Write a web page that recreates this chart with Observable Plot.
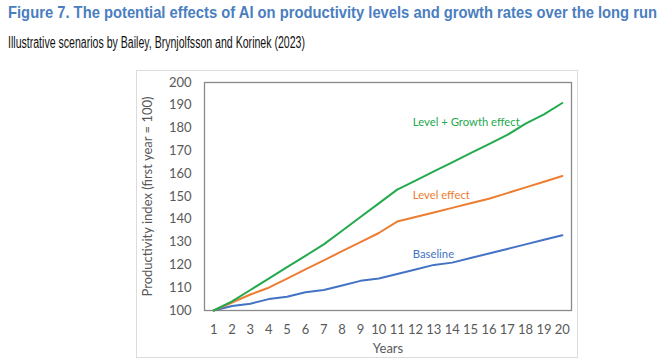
<!DOCTYPE html>
<html><head><meta charset="utf-8">
<script src="https://cdn.jsdelivr.net/npm/d3@7"></script>
<script src="https://cdn.jsdelivr.net/npm/@observablehq/plot@0.6"></script>
<style>
body{margin:0;background:#fff;width:662px;height:361px;overflow:hidden;position:relative;font-family:"Liberation Sans",Arial,sans-serif}
#title{position:absolute;left:8px;top:3px;font-weight:bold;color:#4a7ebf;font-size:17px;white-space:nowrap;transform-origin:0 0}
#subtitle{position:absolute;left:8px;top:34px;color:#111;font-size:16px;white-space:nowrap;transform-origin:0 0}
#box{position:absolute;left:136px;top:70px;width:440px;height:286px;border:1px solid #dcdcdc}
#chart{position:absolute;left:0;top:70px}
</style></head>
<body>
<div id="title">Figure 7. The potential effects of AI on productivity levels and growth rates over the long run</div>
<div id="subtitle">Illustrative scenarios by Bailey, Brynjolfsson and Korinek (2023)</div>
<div id="box"></div>
<div id="chart"></div>
<script>
const years = [1,2,3,4,5,6,7,8,9,10,11,12,13,14,15,16,17,18,19,20];
const yTicks = [100,110,120,130,140,150,160,170,180,190,200];
const seriesNames = ["Baseline","Level effect","Level + Growth effect"];
const seriesColors = ["#4472c4","#ed7d31","#23a94e"];
const baseline = [100,102,103,105,106,108,109,111,113,114,116,118,120,121,123,125,127,129,131,133];
const levelEffect = [100,103.5,107,110,114,118,122,126,130,134,139,141,143,145,147,149,151.5,154,156.5,159];
const levelGrowth = [100,104,109,114,119,124,129,135,141,147,153,157,161,165,169,173,177,182,186,191];
const labelText = ["Baseline","Level effect","Level + Growth effect"];
const labelYear = [11.85,11.85,11.85];
const labelValue = [124.6,150.4,182.5];

// condense the header lines to the narrow face of the original
function fitWidth(id, w) {
  const el = document.getElementById(id);
  const cur = el.getBoundingClientRect().width;
  el.style.transform = `scaleX(${w / cur})`;
}
fitWidth("title", 649);
fitWidth("subtitle", 297);

const seriesValues = [baseline, levelEffect, levelGrowth];
const data = [];
seriesNames.forEach((name, s) => years.forEach((yr, i) => data.push({year: yr, value: seriesValues[s][i], series: name})));
const labels = labelText.map((t, i) => ({text: t, series: seriesNames[i], x: labelYear[i], y: labelValue[i]}));

const chart = Plot.plot({
  width: 662, height: 291,
  marginLeft: 204, marginRight: 91, marginTop: 12, marginBottom: 51,
  style: {background: "transparent", fontFamily: "Lato", fontSize: "13px", color: "#595959"},
  x: {domain: [0.5, 20.5]},
  y: {domain: [100, 200]},
  color: {domain: seriesNames, range: seriesColors},
  marks: [
    Plot.frame({stroke: "#8a8a8a", strokeWidth: 1.3}),
    Plot.axisX({ticks: years, tickFormat: d => String(d), tickSize: 0, tickPadding: 14, fontSize: 13,
      label: "Years", labelAnchor: "center", labelOffset: 42, labelArrow: "none"}),
    Plot.axisY({ticks: yTicks, tickSize: 0, tickPadding: 13, fontSize: 13,
      label: "Productivity index (first year = 100)", labelAnchor: "center", labelOffset: 62, labelArrow: "none"}),
    Plot.line(data, {x: "year", y: "value", z: "series", stroke: "series", strokeWidth: 2}),
    Plot.text(labels, {x: "x", y: "y", text: "text", fill: "series", textAnchor: "start", fontSize: 11.3, fontFamily: "Lato"})
  ]
});
document.getElementById("chart").appendChild(chart);
</script>
</body></html>
